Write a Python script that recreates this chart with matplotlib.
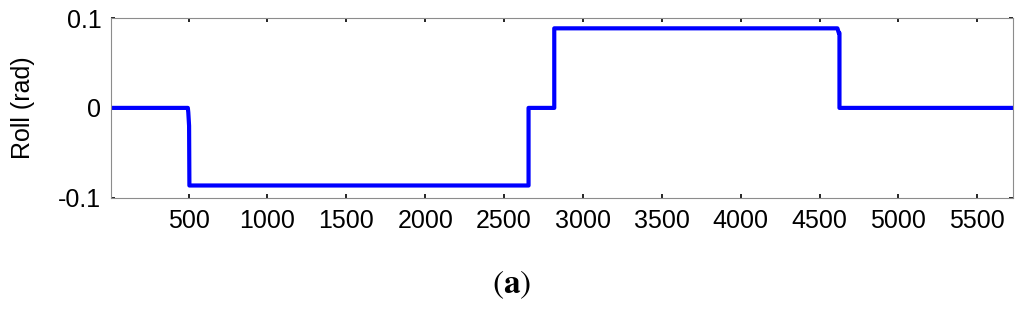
import matplotlib
matplotlib.use("Agg")
import matplotlib.pyplot as plt

# data (sample index, roll in rad)
sample = [8, 495, 498, 503, 505, 2655, 2655, 2818, 2818, 4613, 4622, 4626, 4626, 5728]
roll = [0.0, 0.0, -0.005, -0.02, -0.0866, -0.0866, 0.0, 0.0, 0.0888, 0.0888, 0.0835, 0.0835, 0.0, 0.0]
xticks = [500, 1000, 1500, 2000, 2500, 3000, 3500, 4000, 4500, 5000, 5500]
yticks = [-0.1, 0, 0.1]
ytick_labels = ['-0.1', '0', '0.1']

plt.rcParams['font.family'] = ['Liberation Sans', 'DejaVu Sans']

fig = plt.figure(figsize=(10.24, 3.10), dpi=100)
ax = fig.add_axes([111/1024, 1-197.5/310, (1013.3-111)/1024, (197.5-18.3)/310])
ax.plot(sample, roll, color='#0000ff', lw=3.0, solid_joinstyle='round')
ax.set_xlim(8, 5728)
ax.set_ylim(-0.1, 0.1)
ax.set_xticks(xticks)
ax.set_xticklabels([str(t) for t in xticks])
ax.set_yticks(yticks)
ax.set_yticklabels(ytick_labels)
for s in ax.spines.values():
    s.set_color('#8c8c8c')
    s.set_linewidth(0.8)
ax.tick_params(axis='both', direction='in', length=3, width=1.2, color='black',
               top=True, right=True, labelsize=18)
ax.tick_params(axis='x', pad=8)
ax.tick_params(axis='y', pad=7)
ax.set_ylabel('Roll (rad)', fontsize=18, labelpad=17)

plt.rcParams['mathtext.fontset'] = 'stix'
fig.text(0.5, 1-285/310, r'$(\mathbf{a})$', ha='center', va='center', fontsize=24)

fig.savefig('out.png', dpi=100)
